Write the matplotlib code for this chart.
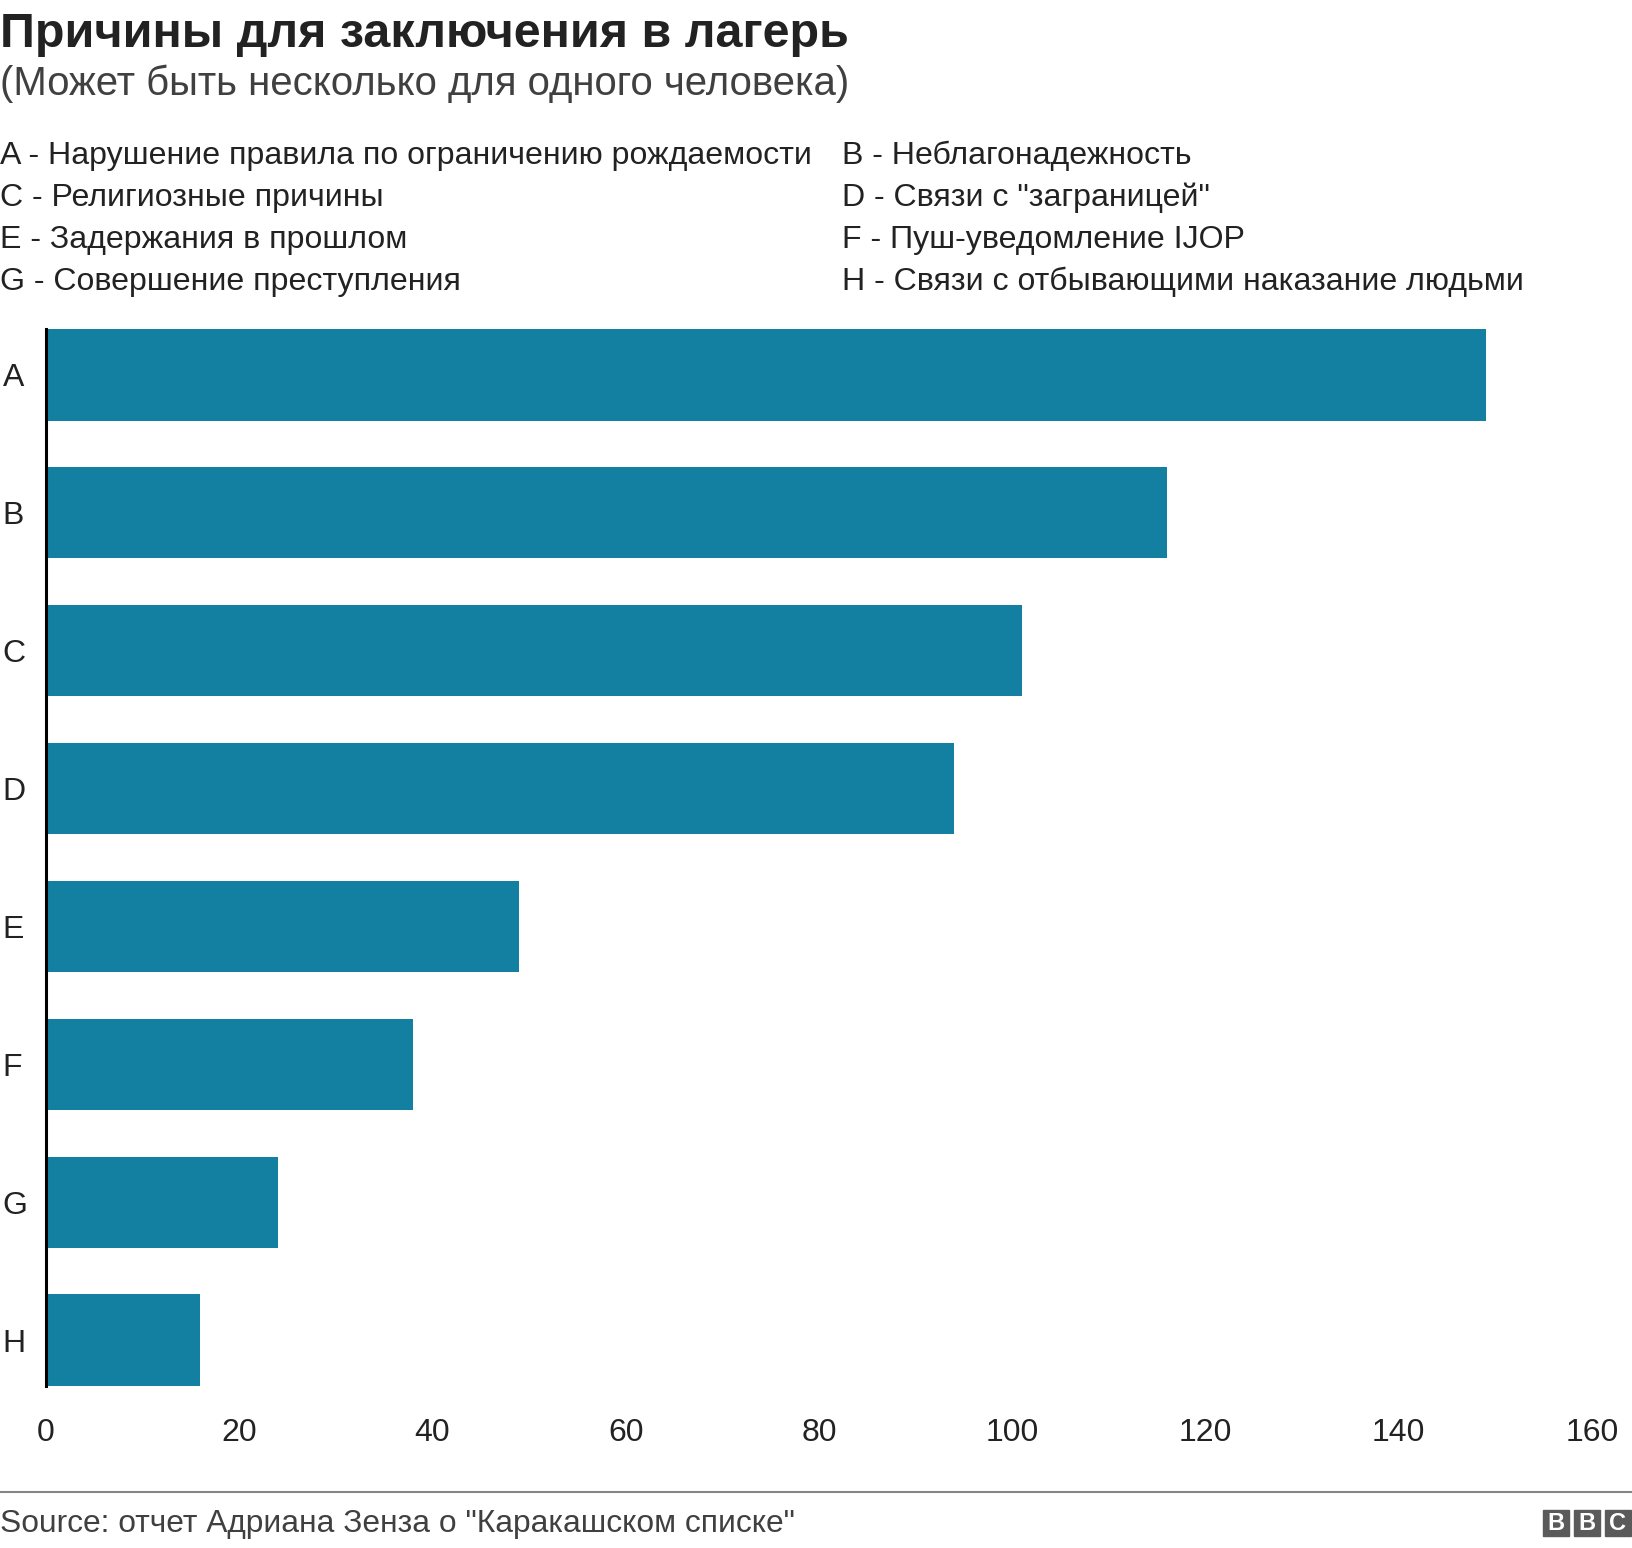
import numpy as np
import matplotlib.pyplot as plt
from matplotlib.patches import Rectangle
from matplotlib.lines import Line2D

plt.rcParams['font.family'] = ['Liberation Sans', 'DejaVu Sans']

categories = ['A', 'B', 'C', 'D', 'E', 'F', 'G', 'H']
values = [149, 116, 101, 94, 49, 38, 24, 16]
legend_items = [
    'A - Нарушение правила по ограничению рождаемости',
    'B - Неблагонадежность',
    'C - Религиозные причины',
    'D - Связи с "заграницей"',
    'E - Задержания в прошлом',
    'F - Пуш-уведомление IJOP',
    'G - Совершение преступления',
    'H - Связи с отбывающими наказание людьми',
]
xticks = [0, 20, 40, 60, 80, 100, 120, 140, 160]

title = 'Причины для заключения в лагерь'
subtitle = '(Может быть несколько для одного человека)'
source = 'Source: отчет Адриана Зенза о "Каракашском списке"'

W, H = 1632, 1548
fig = plt.figure(figsize=(W / 100, H / 100), dpi=100)


def fx(px):
    return px / W


def fy(py):
    return 1 - py / H


# axes placement (pixels from top-left)
ax_left, ax_right = 45.8, 1592
ax_top, ax_bottom = 329, 1386
ax = fig.add_axes([fx(ax_left), fy(ax_bottom), fx(ax_right - ax_left), (ax_bottom - ax_top) / H])

bar_h = 0.664
y = np.arange(len(categories))
ax.barh(y, values, height=bar_h, color='#1380A1')
ax.set_xlim(0, 160)
ax.set_ylim(len(categories) - 1 + bar_h / 2, -bar_h / 2)

ax.set_yticks(y)
ax.set_yticklabels(categories, ha='left')
ax.set_xticks(xticks)
ax.set_xticklabels([str(t) for t in xticks])
ax.tick_params(axis='y', length=0, pad=31, labelsize=23, colors='#222222')
ax.tick_params(axis='x', length=0, pad=23, labelsize=23, colors='#222222')

for s in ['top', 'right', 'bottom']:
    ax.spines[s].set_visible(False)
ax.spines['left'].set_linewidth(2.2)
ax.spines['left'].set_color('black')

# titles
fig.text(0, fy(47), title, fontsize=34.9, fontweight='bold', color='#222222', va='baseline')
fig.text(0, fy(95), subtitle, fontsize=28.9, color='#404040', va='baseline')

# legend text in two columns
for i, item in enumerate(legend_items):
    col = i % 2
    row = i // 2
    xx = 0 if col == 0 else 842
    fig.text(fx(xx), fy(164 + row * 42), item, fontsize=23.1, color='#222222', va='baseline')

# footer
fig.add_artist(Line2D([0, 1], [fy(1492), fy(1492)], color='#858585', linewidth=1.5))
fig.text(0, fy(1532), source, fontsize=22.9, color='#404040', va='baseline')

# BBC blocks
for k, letter in enumerate('BBC'):
    x0 = 1543 + k * 31
    fig.add_artist(Rectangle((fx(x0), fy(1536)), fx(26), 26 / H, color='#5a5a5a'))
    fig.text(fx(x0 + 13), fy(1523), letter, fontsize=17, fontweight='bold',
             color='white', ha='center', va='center')

fig.savefig('out.png', dpi=100)
